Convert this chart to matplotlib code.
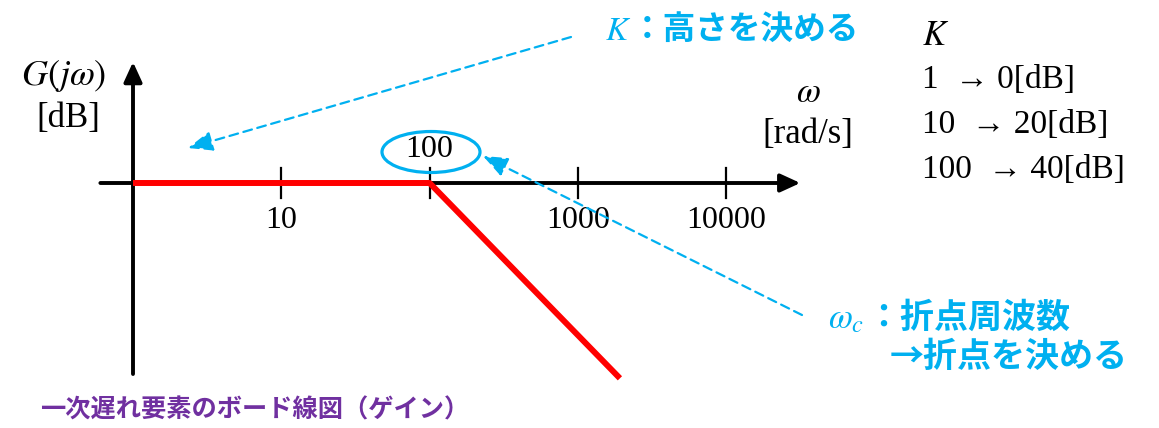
import matplotlib.pyplot as plt
from matplotlib.patches import Ellipse

# ---- data ----
omega_pts = [1, 100, 1920]      # rad/s : flat until the corner, then -20 dB/dec
gain_db = [0, 0, -25.7]
tick_omega = [10, 100, 1000, 10000]
tick_labels = ['10', '100', '1000', '10000']
k_gain = ['1', '10', '100']
k_db = ['0', '20', '40']

BLUE = '#00B0F0'
PURPLE = '#7030A0'
SERIF = ['Liberation Serif', 'DejaVu Serif']
JP = ['Noto Sans CJK JP', 'DejaVu Sans']
plt.rcParams['mathtext.fontset'] = 'stix'

W, H = 1159, 428
fig = plt.figure(figsize=(W / 100, H / 100), dpi=100)
ax = fig.add_axes([0, 0, 1, 1])
ax.set_xscale('log')
dec = 148.3   # px per decade
ppd = 7.6     # px per dB
x0, y0 = 133, 183   # origin in px
ax.set_xlim(10 ** (-x0 / dec), 10 ** ((W - x0) / dec))
ax.set_ylim(-(H - y0) / ppd, y0 / ppd)
ax.axis('off')


def fp(x, y):
    # pixel (from top-left) -> figure fraction
    return x / W, 1 - y / H


# axes with arrow heads
head = dict(arrowstyle='-|>,head_length=1.2,head_width=0.55', color='black',
            lw=2.8, mutation_scale=10, shrinkA=0, shrinkB=0)
ax.annotate('', xy=(10 ** 4.5, 0), xytext=(10 ** -0.22, 0), arrowprops=head)
ax.annotate('', xy=(1, (y0 - 62) / ppd), xytext=(1, -(374 - y0) / ppd), arrowprops=head)

# tick marks
for w in tick_omega:
    ax.plot([w, w], [-2, 2], color='black', lw=1.6, zorder=2)

# bode gain asymptote
ax.plot(omega_pts, gain_db, color='red', lw=4.3, solid_capstyle='butt', zorder=3)

# tick labels: corner frequency above the axis, the rest below
for w, lab in zip(tick_omega, tick_labels):
    yy = 4.4 if w == 100 else -4.9
    ax.text(w, yy, lab, ha='center', va='center', fontsize=23, family=SERIF)

# ellipse around the corner frequency label
fig.add_artist(Ellipse(fp(431, 152), 98 / W, 41 / H, transform=fig.transFigure,
                       fill=False, ec=BLUE, lw=2.3))

# axis labels
fig.text(*fp(64, 76), r'$G(j\omega)$', ha='center', va='center', fontsize=26)
fig.text(*fp(68, 118), '[dB]', ha='center', va='center', fontsize=25, family=SERIF)
fig.text(*fp(808, 92), r'$\omega$', ha='center', va='center', fontsize=25)
fig.text(*fp(808, 134), '[rad/s]', ha='center', va='center', fontsize=25, family=SERIF)

# K table on the right
fig.text(*fp(922, 35), r'$K$', ha='left', va='center', fontsize=25)
for i, (k, d) in enumerate(zip(k_gain, k_db)):
    fig.text(*fp(922, 80 + 45 * i), f'{k}  → {d}[dB]', ha='left', va='center',
             fontsize=24, family=SERIF)

# blue notes
fig.text(*fp(605, 30), r'$K$', ha='left', va='center', fontsize=24, color=BLUE)
fig.text(*fp(631, 29), '：高さを決める', ha='left', va='center', fontsize=23.5,
         family=JP, weight='bold', color=BLUE)
fig.text(*fp(828, 318), r'$\omega_c$', ha='left', va='center', fontsize=25, color=BLUE)
fig.text(*fp(866, 317), '：折点周波数', ha='left', va='center', fontsize=24.5,
         family=JP, weight='bold', color=BLUE)
fig.text(*fp(890, 357), '→折点を決める', ha='left', va='center', fontsize=24.5,
         family=JP, weight='bold', color=BLUE)

# dashed pointer arrows
dash = dict(arrowstyle='-|>,head_length=1.5,head_width=0.6', color=BLUE, lw=1.6,
            linestyle=(0, (4, 2.5)), mutation_scale=10, shrinkA=0, shrinkB=0)
ax.annotate('', xy=(188, H - 148), xytext=(571, H - 37), xycoords='figure pixels',
            textcoords='figure pixels', arrowprops=dash)
ax.annotate('', xy=(483, H - 156), xytext=(802, H - 315), xycoords='figure pixels',
            textcoords='figure pixels', arrowprops=dash)

# title
fig.text(*fp(40, 410), '一次遅れ要素のボード線図（ゲイン）', ha='left', va='center',
         fontsize=18.2, family=JP, weight='bold', color=PURPLE)

fig.savefig('out.png', dpi=100)
